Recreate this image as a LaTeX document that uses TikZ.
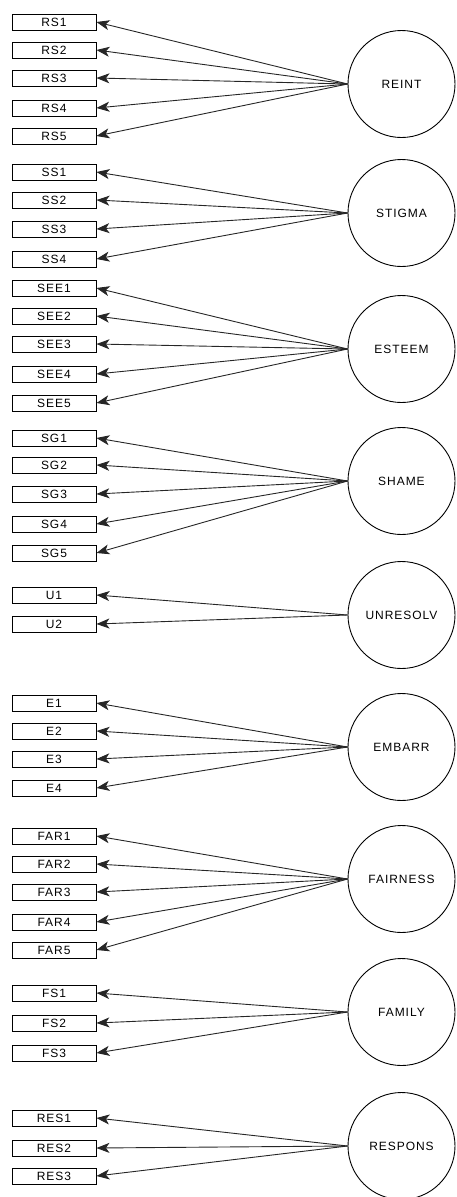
\documentclass[tikz,border=0pt]{standalone}
\usepackage{fontspec}
\setmainfont{Liberation Sans}
\newfontfamily\lab[LetterSpace=8]{Liberation Sans}
\usetikzlibrary{arrows.meta}
\begin{document}
\begin{tikzpicture}[x=1pt,y=-1pt,
  ind/.style={draw, line width=0.9pt, minimum width=84pt, minimum height=16pt, inner sep=0pt, font=\lab\fontsize{12}{13}\selectfont},
  lat/.style={draw, circle, line width=0.9pt, minimum size=107pt, inner sep=0pt, font=\lab\fontsize{12}{13}\selectfont},
  load/.style={-{Stealth[length=13pt,width=10pt,inset=3.5pt]}, line width=0.9pt, draw=black!85}]
\useasboundingbox (0,0) rectangle (456,1197);
% latent variables
\foreach \n/\y in {REINT/84,STIGMA/213,ESTEEM/349,SHAME/481,UNRESOLV/615,EMBARR/747,FAIRNESS/879,FAMILY/1012,RESPONS/1146}
  \node[lat] (\n) at (401.5,\y) {\n};
% indicators
\foreach \n/\y in {RS1/22,RS2/50,RS3/78,RS4/108,RS5/136,
  SS1/172,SS2/200,SS3/229,SS4/259,
  SEE1/288,SEE2/316,SEE3/344,SEE4/374,SEE5/403,
  SG1/438,SG2/465,SG3/494,SG4/524,SG5/553,
  U1/595,U2/624,
  E1/703,E2/731,E3/759,E4/788,
  FAR1/836,FAR2/864,FAR3/892,FAR4/922,FAR5/950,
  FS1/993,FS2/1023,FS3/1053,
  RES1/1118,RES2/1148,RES3/1176}
  \node[ind] (\n) at (54,\y) {\n};
% loadings
\foreach \n in {RS1,RS2,RS3,RS4,RS5} \draw[load] (REINT.west) -- (\n.east);
\foreach \n in {SS1,SS2,SS3,SS4} \draw[load] (STIGMA.west) -- (\n.east);
\foreach \n in {SEE1,SEE2,SEE3,SEE4,SEE5} \draw[load] (ESTEEM.west) -- (\n.east);
\foreach \n in {SG1,SG2,SG3,SG4,SG5} \draw[load] (SHAME.west) -- (\n.east);
\foreach \n in {U1,U2} \draw[load] (UNRESOLV.west) -- (\n.east);
\foreach \n in {E1,E2,E3,E4} \draw[load] (EMBARR.west) -- (\n.east);
\foreach \n in {FAR1,FAR2,FAR3,FAR4,FAR5} \draw[load] (FAIRNESS.west) -- (\n.east);
\foreach \n in {FS1,FS2,FS3} \draw[load] (FAMILY.west) -- (\n.east);
\foreach \n in {RES1,RES2,RES3} \draw[load] (RESPONS.west) -- (\n.east);
\end{tikzpicture}
\end{document}
